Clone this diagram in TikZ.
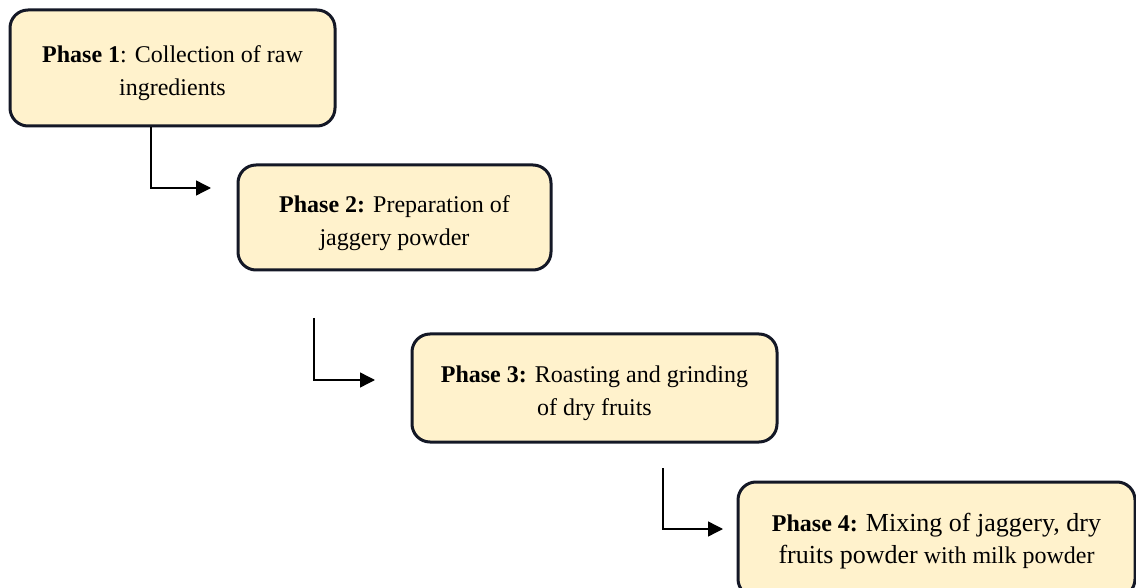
\documentclass[tikz,border=0pt]{standalone}
\usepackage{fontspec}
\setmainfont{Liberation Serif}
\usetikzlibrary{arrows.meta}
\definecolor{boxfill}{RGB}{255,242,204}
\definecolor{boxline}{RGB}{20,24,38}
\newcommand\toppad[1]{\rule{0pt}{#1}}
\begin{document}
\begin{tikzpicture}[x=0.5pt,y=-0.5pt,
  phasebox/.style={draw=boxline, fill=boxfill, line width=1.5pt, rounded corners=9pt,
    align=center, inner sep=0pt, font=\fontsize{12}{16.5}\selectfont},
  arr/.style={draw=black, line width=0.7pt, -{Triangle[length=7.5pt,width=7.5pt]}}]
\useasboundingbox (0,0) rectangle (1136,588);
\node[phasebox, minimum width=162.5pt, minimum height=58pt] (box1) at (172.5,68)
  {\toppad{13.7pt}\textbf{Phase 1}: Collection of raw\\ingredients};
\node[phasebox, minimum width=156.5pt, minimum height=52.5pt] (box2) at (394.5,217.5)
  {\toppad{13.7pt}\textbf{Phase 2:} Preparation of\\jaggery powder};
\node[phasebox, minimum width=182.5pt, minimum height=54pt] (box3) at (594.5,388)
  {\toppad{13.7pt}\textbf{Phase 3:} Roasting and grinding\\of dry fruits};
\node[phasebox, minimum width=198.5pt, minimum height=57.5pt, font=\fontsize{12}{16}\selectfont] (box4) at (936.5,539.5)
  {\toppad{10.9pt}\textbf{Phase 4:} {\fontsize{13}{16}\selectfont Mixing of jaggery, dry}\\{\fontsize{13}{16}\selectfont fruits powder} with milk powder};
\coordinate (c1) at (151,188);
\coordinate (e1) at (211,188);
\coordinate (s2) at (314,318);
\coordinate (c2) at (314,380);
\coordinate (e2) at (375,380);
\coordinate (s3) at (663,468);
\coordinate (c3) at (663,529);
\coordinate (e3) at (723,529);
\draw[arr] (c1 |- box1.south) -- (c1) -- (e1);
\draw[arr] (s2) -- (c2) -- (e2);
\draw[arr] (s3) -- (c3) -- (e3);
\end{tikzpicture}
\end{document}
